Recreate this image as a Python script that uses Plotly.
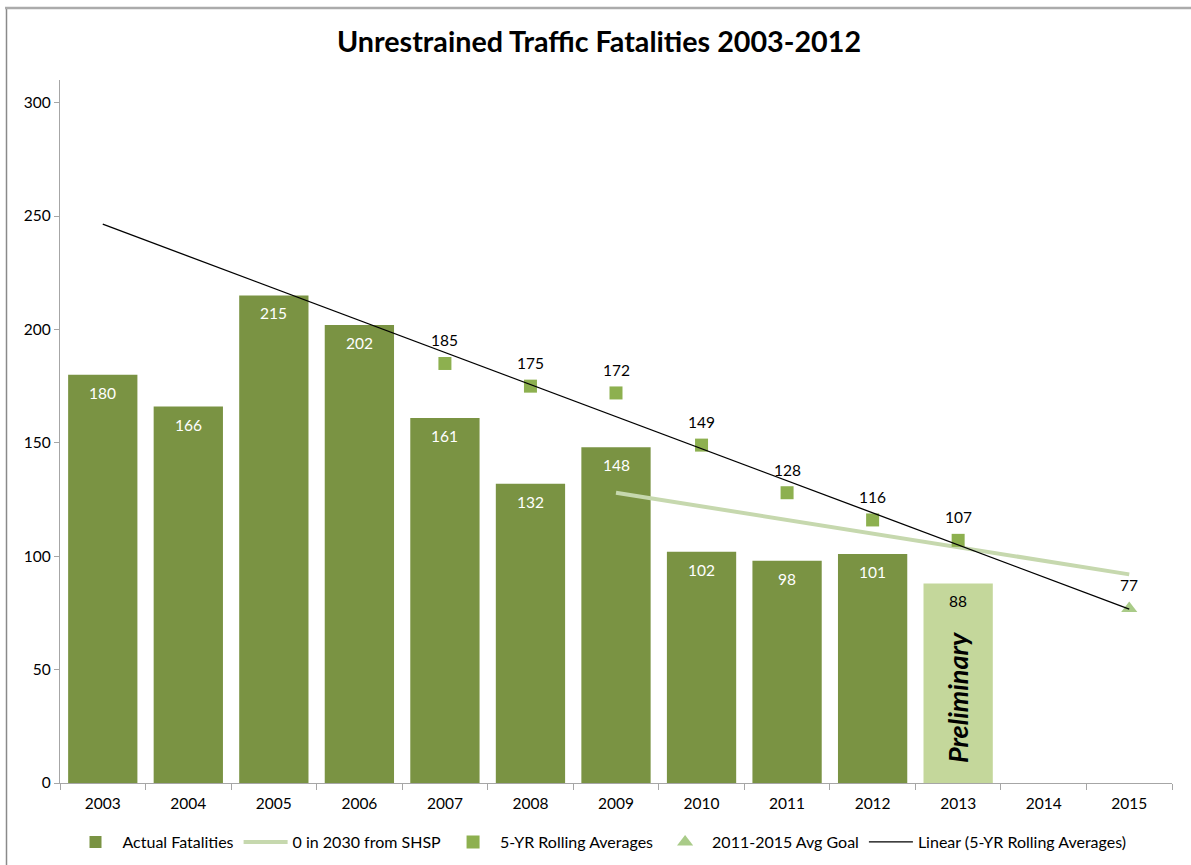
import numpy as np
import plotly.graph_objects as go

years = ["2003", "2004", "2005", "2006", "2007", "2008", "2009",
         "2010", "2011", "2012", "2013", "2014", "2015"]

actual_years = ["2003", "2004", "2005", "2006", "2007", "2008",
                "2009", "2010", "2011", "2012"]
actual_vals = [180, 166, 215, 202, 161, 132, 148, 102, 98, 101]

prelim_years = ["2013"]
prelim_vals = [88]

avg_years = ["2007", "2008", "2009", "2010", "2011", "2012", "2013"]
avg_vals = [185, 175, 172, 149, 128, 116, 107]

shsp_years = ["2009", "2010", "2011", "2012", "2013", "2014", "2015"]
shsp_vals = [128, 122, 116, 110, 104, 98, 92]

goal_years = ["2015"]
goal_vals = [77]

# Excel-style linear trendline of the 5-yr averages, over the full category range
idx = np.array([years.index(y) for y in avg_years], dtype=float)
slope, intercept = np.polyfit(idx, np.array(avg_vals, dtype=float), 1)
trend_x = [years[0], years[-1]]
trend_y = [intercept + slope * 0, intercept + slope * (len(years) - 1)]

DARK = "#7A9343"
LIGHT = "#C4D79B"
SQUARE = "#8DB04F"
TRI = "#A9CB88"
SHSP = "#C6D8AE"
FONT = "Lato"

fig = go.Figure()

fig.add_trace(go.Bar(
    x=actual_years, y=actual_vals, name="Actual Fatalities",
    marker=dict(color=DARK, line=dict(width=0)), width=0.81,
))
fig.add_trace(go.Bar(
    x=prelim_years, y=prelim_vals, name="Preliminary", showlegend=False,
    marker=dict(color=LIGHT, line=dict(width=0)), width=0.81,
))
fig.add_trace(go.Scatter(
    x=shsp_years, y=shsp_vals, name="0 in 2030 from SHSP", mode="lines",
    line=dict(color=SHSP, width=4),
))
fig.add_trace(go.Scatter(
    x=avg_years, y=avg_vals, name="5-YR Rolling Averages", mode="markers",
    marker=dict(symbol="square", size=13, color=SQUARE),
))
fig.add_trace(go.Scatter(
    x=goal_years, y=goal_vals, name="2011-2015 Avg Goal", mode="markers",
    marker=dict(symbol="triangle-up", size=14, color=TRI),
))
fig.add_trace(go.Scatter(
    x=trend_x, y=trend_y, name="Linear (5-YR Rolling Averages)", mode="lines",
    line=dict(color="black", width=1.3),
))

# bar data labels just inside the top of each bar
for yr, v in zip(actual_years, actual_vals):
    fig.add_annotation(
        x=years.index(yr), y=v, xref="x", yref="y", text=str(v),
        showarrow=False, yshift=-18,
        font=dict(size=15.5, color="white", family=FONT),
    )
for yr, v in zip(prelim_years, prelim_vals):
    fig.add_annotation(
        x=years.index(yr), y=v, xref="x", yref="y", text=str(v),
        showarrow=False, yshift=-18,
        font=dict(size=15.5, color="black", family=FONT),
    )

# data labels above the markers
for yr, v in list(zip(avg_years, avg_vals)) + list(zip(goal_years, goal_vals)):
    fig.add_annotation(
        x=years.index(yr), y=v, xref="x", yref="y", text=str(v),
        showarrow=False, yshift=23,
        font=dict(size=15.5, color="black", family=FONT),
    )

fig.add_annotation(
    x=years.index("2013"), y=37.5, xref="x", yref="y",
    text="<b><i>Preliminary</i></b>",
    textangle=-90, showarrow=False,
    font=dict(size=27, color="black", family=FONT),
)

L, R, T, B = 60, 19, 80, 82
W, H = 1191, 865
pw, ph = W - L - R, H - T - B


def px_x(p):
    return (p - L) / pw


def px_y(p):
    return (H - B - p) / ph


fig.add_shape(type="line", xref="paper", yref="paper",
              x0=px_x(6.5), x1=px_x(6.5), y0=px_y(7), y1=px_y(870),
              line=dict(color="#8A8A8A", width=1.5))
fig.add_shape(type="line", xref="paper", yref="paper",
              x0=px_x(5), x1=px_x(1200), y0=px_y(8), y1=px_y(8),
              line=dict(color="#ABABAB", width=2.5))

fig.update_layout(
    width=W, height=H,
    margin=dict(l=L, r=R, t=T, b=B, autoexpand=False),
    paper_bgcolor="white", plot_bgcolor="white",
    barmode="overlay",
    font=dict(family=FONT, size=15, color="black"),
    title=dict(text="<b>Unrestrained Traffic Fatalities 2003-2012</b>",
               x=px_x(599), xanchor="center", xref="paper",
               y=1 - 42 / H, yanchor="middle",
               font=dict(size=28.7, family=FONT, color="black")),
    showlegend=True,
    legend=dict(orientation="h", x=px_x(600), xanchor="center",
                y=px_y(842), yanchor="middle",
                font=dict(size=16, family=FONT), itemwidth=44,
                bgcolor="rgba(0,0,0,0)", traceorder="normal"),
    xaxis=dict(type="category", categoryorder="array", categoryarray=years,
               range=[-0.5, len(years) - 0.5],
               showline=True, linecolor="#A6A6A6", linewidth=1.3,
               ticks="outside", tickson="boundaries", ticklen=6,
               tickcolor="#A6A6A6", showgrid=False, zeroline=False,
               ticklabelstandoff=6,
               tickfont=dict(size=15.5, family=FONT)),
    yaxis=dict(range=[0, 310], dtick=50, tick0=0,
               showline=True, linecolor="#A6A6A6", linewidth=1.3,
               ticks="outside", ticklen=5, tickcolor="#A6A6A6",
               showgrid=False, zeroline=False,
               tickfont=dict(size=15.5, family=FONT)),
)

fig.write_html("out.html", config={"displayModeBar": False},
               post_script="document.body.style.margin='0';document.body.style.padding='0';")
